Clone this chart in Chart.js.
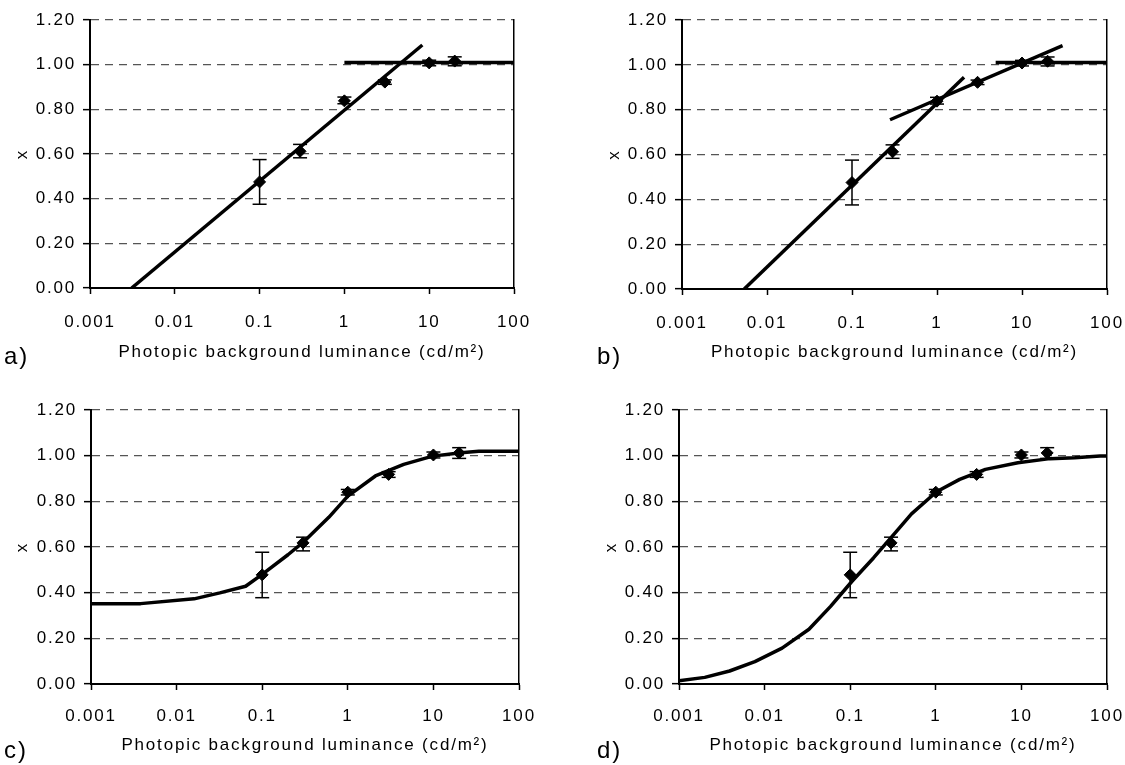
<!DOCTYPE html>
<html>
<head>
<meta charset="utf-8">
<script src="https://cdn.jsdelivr.net/npm/chart.js@4.4.1/dist/chart.umd.min.js"></script>
<style>
  body { margin: 0; background: #fff; width: 1125px; height: 765px; position: relative; overflow: hidden;
         font-family: 'Liberation Sans', Arial, sans-serif; }
  canvas { position: absolute; }
  .tag { position: absolute; font-size: 24px; letter-spacing: 2px; color: #000; line-height: 1; }
</style>
</head>
<body>
<canvas id="pa" width="560" height="380" style="left:0;top:0"></canvas>
<canvas id="pb" width="533" height="380" style="left:592px;top:0"></canvas>
<canvas id="pc" width="560" height="375" style="left:0;top:390px"></canvas>
<canvas id="pd" width="536" height="375" style="left:589px;top:390px"></canvas>
<div class="tag" style="left:4px;top:344px">a)</div>
<div class="tag" style="left:597px;top:344px">b)</div>
<div class="tag" style="left:4px;top:738px">c)</div>
<div class="tag" style="left:597px;top:738px">d)</div>
<script>
/* Luminance axis (log) and x-value axis */
const LUM_TICKS = [0.001, 0.01, 0.1, 1, 10, 100];
const LUM_LABELS = ['0.001', '0.01', '0.1', '1', '10', '100'];
const X_TICKS = [0, 0.2, 0.4, 0.6, 0.8, 1.0, 1.2];
const X_LABELS = ['0.00', '0.20', '0.40', '0.60', '0.80', '1.00', '1.20'];
const X_TITLE = 'Photopic background luminance (cd/m²)';

// ── measured points (mean + error bar ends) ──────────────────────────
const lumPts = [0.1, 0.3, 1, 3, 10, 20];
const xTop   = [0.475, 0.612, 0.838, 0.922, 1.008, 1.016];
const loTop  = [0.375, 0.583, 0.825, 0.912, 0.995, 0.995];
const hiTop  = [0.575, 0.643, 0.855, 0.932, 1.020, 1.035];
const xBot   = [0.478, 0.618, 0.840, 0.918, 1.003, 1.012];
const loBot  = [0.378, 0.583, 0.828, 0.905, 0.990, 0.988];
const hiBot  = [0.577, 0.643, 0.852, 0.930, 1.016, 1.035];

// ── a) two straight segments ─────────────────────────────────────────
const fitA1X = [0.0031, 8.3],  fitA1Y = [0, 1.088];
const fitA2X = [1, 100],       fitA2Y = [1.01, 1.01];
// ── b) three straight segments ───────────────────────────────────────
const fitB1X = [0.0054, 2.08], fitB1Y = [0, 0.945];
const fitB2X = [0.28, 30],     fitB2Y = [0.755, 1.086];
const fitB3X = [4.9, 100],     fitB3Y = [1.01, 1.01];
// ── c) sigmoid with offset ───────────────────────────────────────────
const curveCX = [0.001, 0.0038, 0.016, 0.032, 0.064, 0.1, 0.2, 0.31, 0.6, 1, 2.1, 4.5, 9.8, 21, 34, 100];
const curveCY = [0.352, 0.352, 0.373, 0.399, 0.428, 0.48, 0.566, 0.625, 0.73, 0.823, 0.911, 0.962, 0.998, 1.013, 1.019, 1.019];
// ── d) sigmoid from zero ─────────────────────────────────────────────
const curveDX = [0.001, 0.002, 0.0039, 0.0077, 0.016, 0.033, 0.059, 0.105, 0.187, 0.335, 0.52, 1.02, 1.9, 3.8, 9.1, 21.5, 42, 83, 100];
const curveDY = [0.0146, 0.029, 0.057, 0.098, 0.157, 0.24, 0.34, 0.45, 0.552, 0.662, 0.745, 0.842, 0.896, 0.94, 0.969, 0.987, 0.991, 0.9985, 0.998];

const SPACING = '1.8px';
const FONT = { family: "'Liberation Sans', Arial, sans-serif", size: 17 };

function pts(xs, ys) { return xs.map((x, i) => ({ x, y: ys[i] })); }
function errPts(xs, lo, hi) { return xs.flatMap((x, i) => [{ x, y: lo[i] }, { x, y: hi[i] }, { x, y: null }]); }

const spacingPlugin = {
  id: 'spacing',
  beforeUpdate(c) { c.ctx.letterSpacing = SPACING; },
  beforeDraw(c) { c.ctx.letterSpacing = SPACING; },
};

function makeChart(id, fits, ys, lo, hi, box) {
  const datasets = [
    { data: pts(lumPts, ys), showLine: false, pointStyle: 'rectRot', pointRadius: 6,
      backgroundColor: '#000', borderColor: '#000', pointBorderWidth: 1 },
    { data: errPts(lumPts, lo, hi), showLine: true, spanGaps: false, borderColor: '#000', borderWidth: 1.5,
      pointStyle: 'line', pointRadius: 7, pointBorderWidth: 1.5, pointBorderColor: '#000' },
    ...fits.map(([fx, fy]) => ({ data: pts(fx, fy), showLine: true, borderColor: '#000', borderWidth: 3.5,
      pointRadius: 0, tension: 0, borderCapStyle: 'butt', borderJoinStyle: 'round' })),
  ];
  return new Chart(document.getElementById(id), {
    type: 'scatter',
    data: { datasets },
    plugins: [spacingPlugin],
    options: {
      responsive: false, animation: false, events: [],
      layout: { padding: { top: box.padTop, right: box.padRight, bottom: 0, left: 0 } },
      plugins: { legend: { display: false }, tooltip: { enabled: false } },
      scales: {
        x: {
          type: 'logarithmic', min: 0.001, max: 100,
          afterBuildTicks: s => { s.ticks = LUM_TICKS.map(v => ({ value: v })); },
          afterFit: s => { s.height = box.xH; s.paddingLeft = 0; s.paddingRight = 0; },
          ticks: { color: '#000', font: FONT, padding: box.tickPad, maxRotation: 0, autoSkip: false,
                   callback: (v, i) => LUM_LABELS[i] },
          grid: { drawOnChartArea: false, drawTicks: true, tickLength: 6, tickColor: '#000', tickWidth: 1.5 },
          border: { color: '#000', width: 2 },
          title: { display: true, text: X_TITLE, color: '#000', font: FONT, padding: { top: 0, bottom: box.titlePad } },
        },
        y: {
          min: 0, max: 1.2,
          afterBuildTicks: s => { s.ticks = X_TICKS.map(v => ({ value: v })); },
          afterFit: s => { s.width = box.yW; },
          ticks: { color: '#000', font: FONT, padding: 7, callback: (v, i) => X_LABELS[i] },
          grid: { color: '#555', lineWidth: 1.3, drawTicks: true, tickLength: 7, tickColor: '#000',
                  tickWidth: 1.5, tickBorderDash: [] },
          border: { color: '#000', width: 2, dash: [8, 6] },
          title: { display: true, text: 'x', color: '#000', font: FONT, padding: { top: 12, bottom: 0 } },
        },
        y2: {
          position: 'right', min: 0, max: 1.2,
          afterFit: s => { s.width = 0; },
          ticks: { display: false },
          grid: { display: false },
          border: { display: true, color: '#000', width: 1.5 },
        },
      },
    },
  });
}

makeChart('pa', [[fitA1X, fitA1Y], [fitA2X, fitA2Y]], xTop, loTop, hiTop,
  { yW: 90, xH: 92, padTop: 20, padRight: 46, tickPad: 17.8, titlePad: 17.8 });
makeChart('pb', [[fitB1X, fitB1Y], [fitB2X, fitB2Y], [fitB3X, fitB3Y]], xTop, loTop, hiTop,
  { yW: 90, xH: 91, padTop: 20, padRight: 18, tickPad: 17.8, titlePad: 17.8 });
makeChart('pc', [[curveCX, curveCY]], xBot, loBot, hiBot,
  { yW: 91, xH: 81, padTop: 20, padRight: 41, tickPad: 15.8, titlePad: 9.8 });
makeChart('pd', [[curveDX, curveDY]], xBot, loBot, hiBot,
  { yW: 90, xH: 81, padTop: 20, padRight: 18, tickPad: 15.8, titlePad: 9.8 });
</script>
</body>
</html>
